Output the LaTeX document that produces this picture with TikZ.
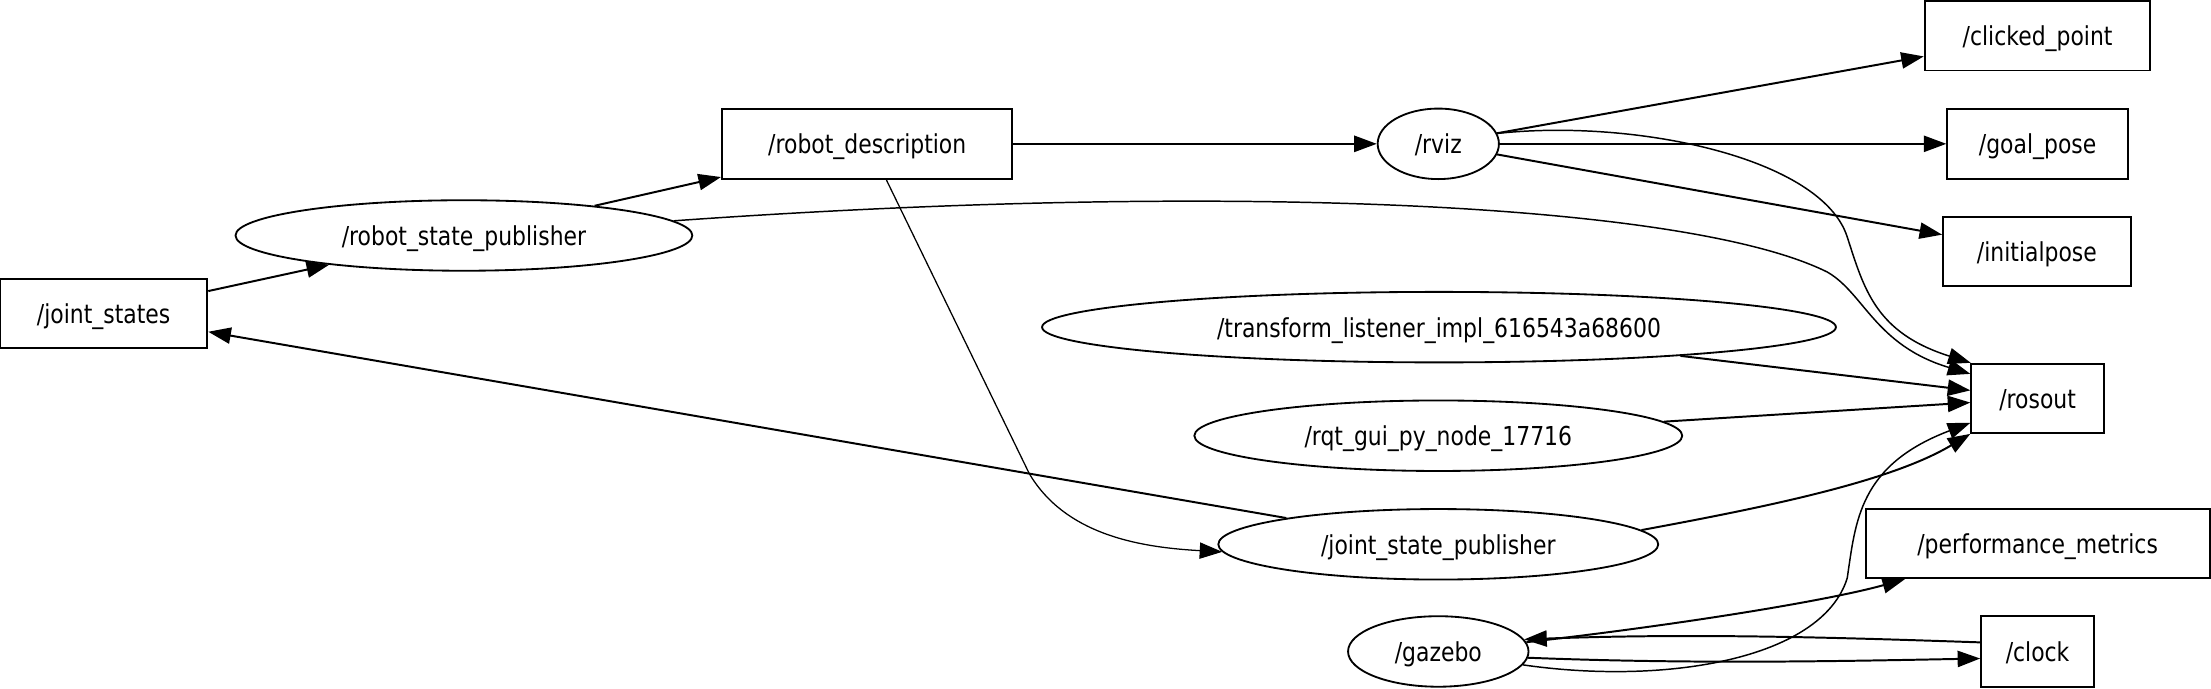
\documentclass[tikz,border=0pt]{standalone}
\usepackage{fontspec}
\setmainfont{DejaVu Sans}[FakeStretch=0.84]
\usetikzlibrary{arrows.meta,shapes.geometric}
\begin{document}
\begin{tikzpicture}[x=1pt,y=-1pt,
  every node/.style={font=\fontsize{18.5}{22}\selectfont, inner sep=0pt, text height=14pt, text depth=0pt},
  topic/.style={draw, line width=1.4pt, rectangle},
  rosnode/.style={draw, line width=1.3pt, ellipse, minimum height=50pt},
  edge/.style={draw, line width=1.4pt, -{Triangle[length=16pt,width=11.5pt]}},
  thinedge/.style={edge, line width=1.05pt}]
\useasboundingbox (0,0) rectangle (1568,488);
% topics
\node[topic, minimum width=147pt, minimum height=49pt] (js) at (73.5,222.5) {/joint\_states};
\node[topic, minimum width=206pt, minimum height=50pt] (rd) at (615,102) {/robot\_description};
\node[topic, minimum width=160pt, minimum height=49pt] (cp) at (1445,25.5) {/clicked\_point};
\node[topic, minimum width=128pt, minimum height=50pt] (gp) at (1445,102) {/goal\_pose};
\node[topic, minimum width=133pt, minimum height=49pt] (ip) at (1444.5,178.5) {/initialpose};
\node[topic, minimum width=94pt, minimum height=49pt] (ro) at (1445,282.5) {/rosout};
\node[topic, minimum width=244pt, minimum height=49pt] (pm) at (1445,385.5) {/performance\_metrics};
\node[topic, minimum width=80pt, minimum height=50pt] (ck) at (1445,462) {/clock};
% nodes
\node[rosnode, minimum width=324pt] (rsp) at (329,167) {/robot\_state\_publisher};
\node[rosnode, minimum width=86pt] (rv) at (1020,102) {/rviz};
\node[rosnode, minimum width=563pt] (tl) at (1020.5,232) {/transform\_listener\_impl\_616543a68600};
\node[rosnode, minimum width=346pt] (rq) at (1020,309) {/rqt\_gui\_py\_node\_17716};
\node[rosnode, minimum width=312pt] (jsp) at (1020,386) {/joint\_state\_publisher};
\node[rosnode, minimum width=128pt] (gz) at (1020,462) {/gazebo};
% edges
\draw[edge] (js) -- (rsp);
\draw[edge] (rsp) -- (rd);
\draw[edge] (rd) -- (rv);
\draw[edge] (rv) -- (cp);
\draw[edge] (rv) -- (gp);
\draw[edge] (rv) -- (ip);
\draw[edge] (tl) -- (ro);
\draw[edge] (rq) -- (ro);
\draw[edge] (jsp) -- (js);
\draw[thinedge] (rv.10) .. controls (1160,84) and (1292,112) .. (1310,168)
   .. controls (1322,205) and (1330,236) .. (ro.152);
\draw[thinedge] (rsp.4) .. controls (880,128) and (1200,145) .. (1296,193)
   .. controls (1322,208) and (1330,245) .. (ro.160);
\draw[edge] (jsp.4) .. controls (1250,360) and (1340,342) .. (ro.south west);
\draw[thinedge, line width=0.9pt] (rd.-62) -- (730,336) .. controls (755,378) and (805,388) .. (jsp.182);
\draw[thinedge] (gz.-9) .. controls (1180,486) and (1292,468) .. (1310,410)
   .. controls (1316,370) and (1318,330) .. (ro.200);
\draw[edge] (gz.6) .. controls (1200,442) and (1300,425) .. (pm.195);
\draw[edge] (ck.171) .. controls (1300,452) and (1200,449) .. (gz.8);
\draw[edge] (gz.-4) .. controls (1200,471) and (1300,469) .. (ck.187);
\end{tikzpicture}
\end{document}
